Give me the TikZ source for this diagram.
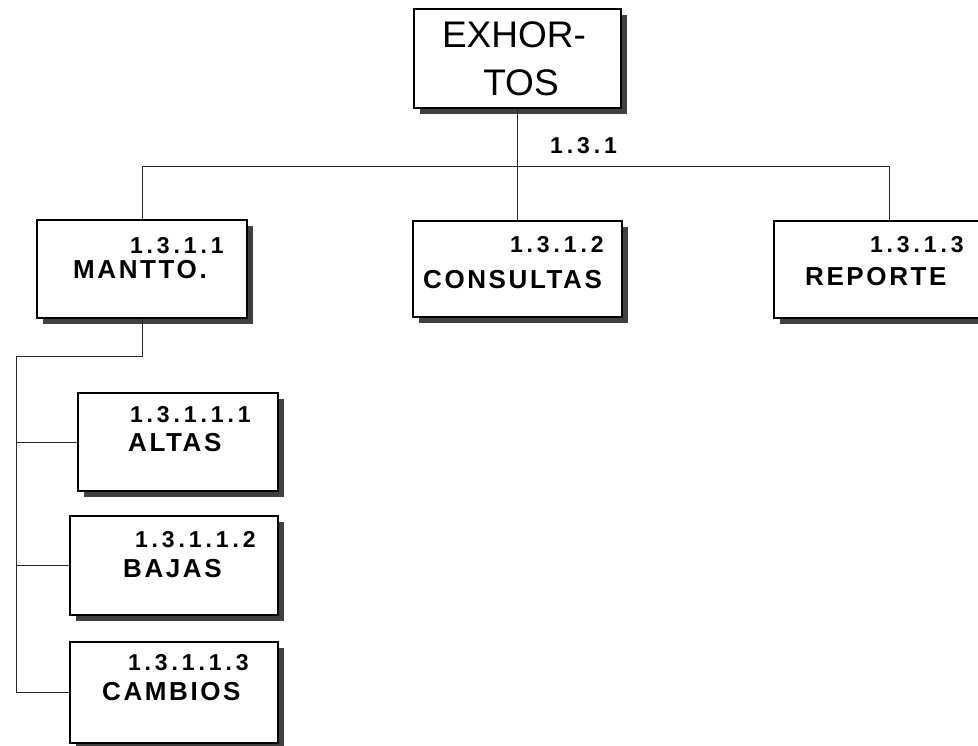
\documentclass[tikz,border=0pt]{standalone}
\usepackage{fontspec}
\setmainfont{Liberation Sans}
\newfontfamily\lblfont{Liberation Sans}[LetterSpace=10]
\newfontfamily\numfont{Liberation Sans}[LetterSpace=17]
\usetikzlibrary{positioning,shadows}

\begin{document}
\begin{tikzpicture}[x=1pt,y=-1pt,
  blk/.style={draw,line width=1.4pt,fill=white,inner sep=0pt,
    drop shadow={shadow xshift=6pt,shadow yshift=-6pt,fill=black!75,opacity=1}},
  num/.style={anchor=base east,inner sep=0pt,font=\numfont\bfseries\fontsize{23}{27}\selectfont},
  nm/.style={anchor=base west,inner sep=0pt,font=\lblfont\bfseries\fontsize{26}{30}\selectfont},
  ln/.style={line width=0.9pt,black!85}]
  \useasboundingbox (0,0) rectangle (978,745);
  % boxes
  \node[blk,minimum width=207pt,minimum height=99pt] (top) at (517.5,58.5) {};
  \node[blk,minimum width=210pt,minimum height=98pt] (mantto) at (142,269) {};
  \node[blk,minimum width=209pt,minimum height=96pt] (consultas) at (517.5,269) {};
  \node[blk,minimum width=206pt,minimum height=97pt] (reporte) at (877,269.5) {};
  \node[blk,minimum width=200pt,minimum height=98pt] (altas) at (178,442) {};
  \node[blk,minimum width=208pt,minimum height=99pt] (bajas) at (174,565.5) {};
  \node[blk,minimum width=208pt,minimum height=101pt] (cambios) at (174,692.5) {};
  % texts
  \node[anchor=base,inner sep=0pt,font=\fontsize{37}{44}\selectfont] (t1) at (514,47) {EXHOR-};
  \node[anchor=base,inner sep=0pt,font=\fontsize{37}{44}\selectfont] (t2) at (521,95) {TOS};
  \node[anchor=base west,inner sep=0pt,font=\numfont\bfseries\fontsize{23}{27}\selectfont] (n0) at (550,153) {1.3.1};
  \node[num] (n1) at (224,253) {1.3.1.1};
  \node[nm] (m1) at (73,278) {MANTTO.};
  \node[num] (n2) at (604,252) {1.3.1.2};
  \node[nm] (m2) at (423,288) {CONSULTAS};
  \node[num] (n3) at (964,252) {1.3.1.3};
  \node[nm] (m3) at (805,285) {REPORTE};
  \node[num] (n11) at (251,422) {1.3.1.1.1};
  \node[nm] (m11) at (128,451) {ALTAS};
  \node[num] (n12) at (256,547) {1.3.1.1.2};
  \node[nm] (m12) at (123,577) {BAJAS};
  \node[num] (n13) at (249,670) {1.3.1.1.3};
  \node[nm] (m13) at (102,700) {CAMBIOS};
  % connectors
  \coordinate (rj) at (889,166);
  \coordinate (bus) at (16,356);
  \draw[ln] (top) -- (consultas);
  \draw[ln] (mantto.north) |- (rj) -- (rj |- reporte.north);
  \draw[ln] (mantto.south) |- (bus) |- (cambios.west);
  \draw[ln] (bus |- altas.west) -- (altas.west);
  \draw[ln] (bus |- bajas.west) -- (bajas.west);
\end{tikzpicture}
\end{document}
